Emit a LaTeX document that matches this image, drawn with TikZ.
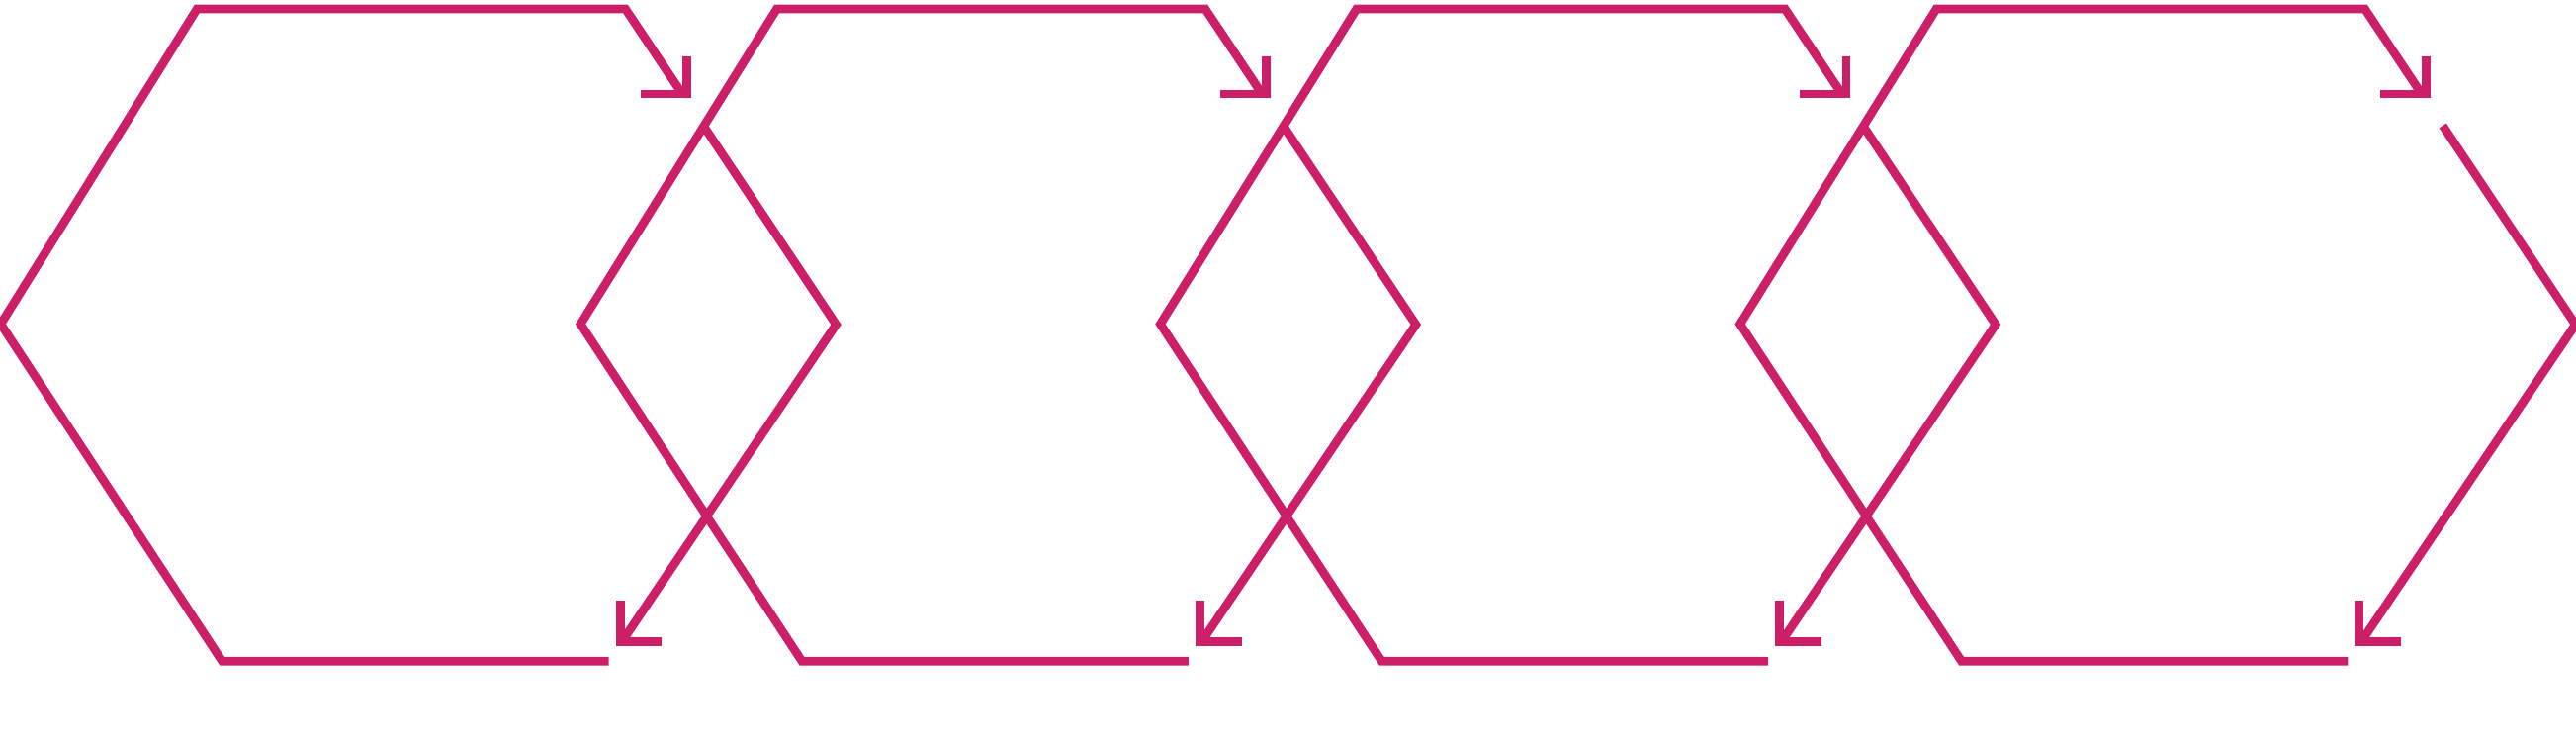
\documentclass[tikz,border=0pt]{standalone}
\definecolor{brand}{RGB}{204,31,104}
\begin{document}
\begin{tikzpicture}[x=1pt,y=-1pt,
  hexline/.style={draw=brand,line width=8.7pt,line join=miter,line cap=butt}]
\useasboundingbox (0,0) rectangle (2605,759);
\clip (0,0) rectangle (2605,759);
\foreach \k in {0,1,2,3}{
  \pgfmathsetmacro\dx{586.3*\k}
  % hexagon corners
  \coordinate (LV\k) at (0.8+\dx,327.5);
  \coordinate (TL\k) at (199.2+\dx,9);
  \coordinate (TR\k) at (632.5+\dx,9);
  \coordinate (RV\k) at (845.5+\dx,328);
  \coordinate (BR\k) at (615.5+\dx,668.3);
  \coordinate (BL\k) at (224.7+\dx,668.3);
  % upper arrow
  \coordinate (TS\k) at (690+\dx,95);
  \coordinate (TH1\k) at (694.5+\dx,56.7);
  \coordinate (THC\k) at (694.5+\dx,95);
  \coordinate (TH2\k) at (647.7+\dx,95);
  % restart of right side
  \coordinate (S\k) at (711.3+\dx,127);
  % lower arrow
  \coordinate (BS\k) at (628.7+\dx,648.8);
  \coordinate (BH1\k) at (627.2+\dx,606.7);
  \coordinate (BHC\k) at (627.2+\dx,648.8);
  \coordinate (BH2\k) at (669.3+\dx,648.8);
  \draw[hexline] (BR\k) -- (BL\k) -- (LV\k) -- (TL\k) -- (TR\k) -- (TS\k);
  \draw[hexline] (TH1\k) -- (THC\k) -- (TH2\k);
  \draw[hexline] (S\k) -- (RV\k) -- (BS\k);
  \draw[hexline] (BH1\k) -- (BHC\k) -- (BH2\k);
}
\end{tikzpicture}
\end{document}
